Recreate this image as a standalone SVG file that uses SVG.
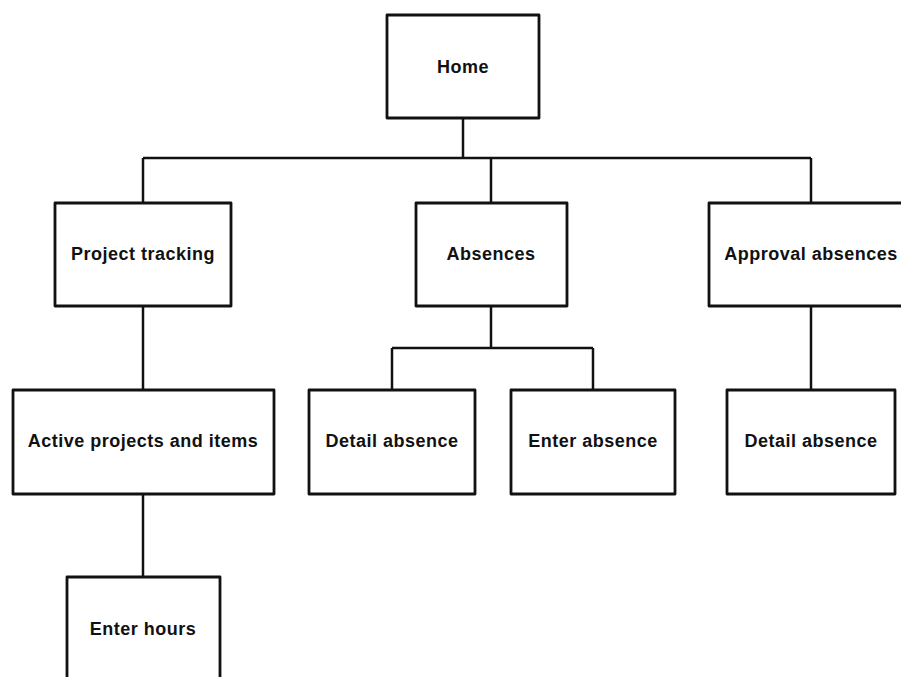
<svg xmlns="http://www.w3.org/2000/svg" width="901" height="677" viewBox="0 0 901 677">
<style>
.box{fill:#fff;stroke:#111;stroke-width:2.8;stroke-linejoin:round}
.lbl{font-family:"Liberation Sans",Arial,sans-serif;font-weight:bold;font-size:18px;letter-spacing:0.5px;fill:#111;text-anchor:middle}
.con{fill:none;stroke:#111;stroke-width:2.5;stroke-linejoin:miter}
</style>
<rect width="901" height="677" fill="#fff"/>
<g id="connectors">
<path class="con" d="M463,118 V158 M143,158 H811 M143,158 V203 M491,158 V203 M811,158 V203"/>
<path class="con" d="M143,306 V390"/>
<path class="con" d="M491,306 V348 M392,348 H593 M392,348 V390 M593,348 V390"/>
<path class="con" d="M811,306 V390"/>
<path class="con" d="M143,494 V577"/>
</g>
<g id="home"><rect class="box" x="387" y="15" width="152" height="103"/><text class="lbl" x="463" y="73">Home</text></g>
<g id="project-tracking"><rect class="box" x="55" y="203" width="176" height="103"/><text class="lbl" x="143" y="260">Project tracking</text></g>
<g id="absences"><rect class="box" x="416" y="203" width="151" height="103"/><text class="lbl" x="491" y="260">Absences</text></g>
<g id="approval-absences"><rect class="box" x="709" y="203" width="204" height="103"/><text class="lbl" x="811" y="260">Approval absences</text></g>
<g id="active-projects"><rect class="box" x="13" y="390" width="261" height="104"/><text class="lbl" x="143" y="447">Active projects and items</text></g>
<g id="detail-absence-1"><rect class="box" x="309" y="390" width="166" height="104"/><text class="lbl" x="392" y="447">Detail absence</text></g>
<g id="enter-absence"><rect class="box" x="511" y="390" width="164" height="104"/><text class="lbl" x="593" y="447">Enter absence</text></g>
<g id="detail-absence-2"><rect class="box" x="727" y="390" width="168" height="104"/><text class="lbl" x="811" y="447">Detail absence</text></g>
<g id="enter-hours"><rect class="box" x="67" y="577" width="153" height="110"/><text class="lbl" x="143" y="635">Enter hours</text></g>
</svg>
